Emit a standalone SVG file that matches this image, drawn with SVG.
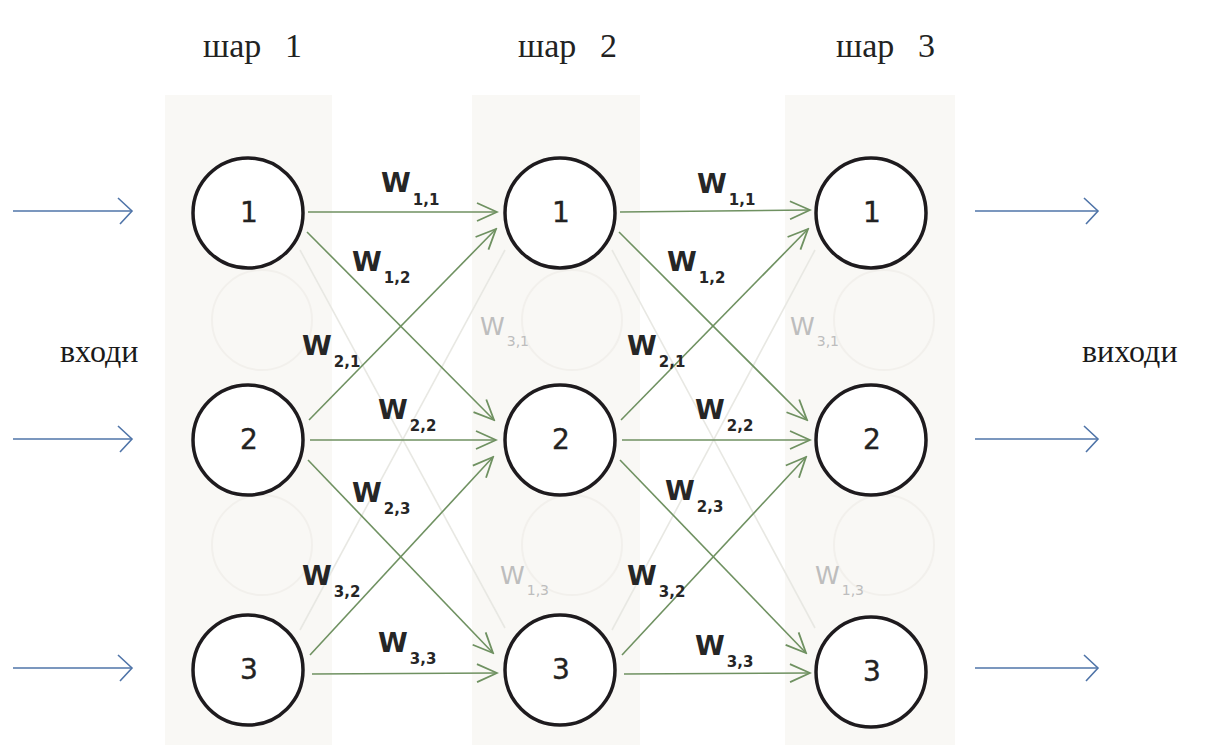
<svg xmlns="http://www.w3.org/2000/svg" width="1205" height="745" viewBox="0 0 1205 745">
  <defs>
    <style>
      .col { fill: #f9f8f5; }
      .ghost { fill: none; stroke: #f2f0ec; stroke-width: 2; }
      .node { fill: #ffffff; stroke: #1e1b1e; stroke-width: 3.5; }
      .num { font-family: "DejaVu Sans", sans-serif; font-size: 28px; fill: #222; stroke: #222; stroke-width: 0.4; text-anchor: middle; }
      .head { font-family: "Liberation Serif", serif; font-size: 34px; fill: #222; }
      .side { font-family: "Liberation Serif", serif; font-size: 32px; fill: #1a1a1a; }
      .w { font-family: "DejaVu Sans", sans-serif; font-size: 27px; font-weight: bold; fill: #262626; }
      .w tspan { font-size: 15px; }
      .wf { font-family: "DejaVu Sans", sans-serif; font-size: 25px; fill: #bdbdbd; }
      .wf tspan { font-size: 14px; }
      .edge { fill: none; stroke: #6f9161; stroke-width: 1.6; marker-end: url(#g); }
      .faint { fill: none; stroke: #e8e8e3; stroke-width: 1.6; }
      .io { fill: none; stroke: #4f74a8; stroke-width: 1.6; marker-end: url(#b); }
    </style>
    <marker id="g" viewBox="0 0 24 20" refX="22" refY="10" markerWidth="24" markerHeight="20" markerUnits="userSpaceOnUse" orient="auto">
      <path d="M2,1 L22,10 L2,19" fill="none" stroke="#6f9161" stroke-width="1.8"/>
    </marker>
    <marker id="b" viewBox="0 0 20 28" refX="18" refY="14" markerWidth="20" markerHeight="28" markerUnits="userSpaceOnUse" orient="auto">
      <path d="M4,1 L18,14 L6,27" fill="none" stroke="#4f74a8" stroke-width="1.6"/>
    </marker>
  </defs>

  <rect width="1205" height="745" fill="#ffffff"/>

  <!-- layer backdrops -->
  <g id="backdrop">
    <rect class="col" x="165" y="95" width="167" height="650"/>
    <rect class="col" x="472" y="95" width="168" height="650"/>
    <rect class="col" x="785" y="95" width="170" height="650"/>
    <circle class="ghost" cx="262" cy="320" r="50"/>
    <circle class="ghost" cx="262" cy="545" r="50"/>
    <circle class="ghost" cx="572" cy="320" r="50"/>
    <circle class="ghost" cx="572" cy="545" r="50"/>
    <circle class="ghost" cx="884" cy="320" r="50"/>
    <circle class="ghost" cx="884" cy="545" r="50"/>
  </g>

  <!-- headings and side labels -->
  <text class="head" x="203" y="57">шар<tspan x="285">1</tspan></text>
  <text class="head" x="518" y="57">шар<tspan x="600">2</tspan></text>
  <text class="head" x="836" y="57">шар<tspan x="918">3</tspan></text>
  <text class="side" x="60" y="362">входи</text>
  <text class="side" x="1082" y="362">виходи</text>

  <!-- connectors -->
  <g id="connectors">
    <!-- inputs -->
    <path class="io" d="M13,211 L132,211"/>
    <path class="io" d="M13,439 L132,439"/>
    <path class="io" d="M13,668 L132,668"/>
    <!-- outputs -->
    <path class="io" d="M975,211 L1098,211"/>
    <path class="io" d="M975,439 L1098,439"/>
    <path class="io" d="M975,668 L1098,668"/>

    <!-- faint background links -->
    <path class="faint" d="M300,630 L505,250"/>
    <path class="faint" d="M300,250 L505,628"/>
    <path class="faint" d="M612,630 L815,250"/>
    <path class="faint" d="M612,250 L815,628"/>

    <!-- layer 1 to layer 2 -->
    <path class="edge" d="M308,212 L497,212"/>
    <path class="edge" d="M307,232 L494,420"/>
    <path class="edge" d="M309,420 L496,229"/>
    <path class="edge" d="M310,440 L496,440"/>
    <path class="edge" d="M308,460 L493,653"/>
    <path class="edge" d="M310,655 L493,457"/>
    <path class="edge" d="M312,674 L497,673"/>

    <!-- layer 2 to layer 3 -->
    <path class="edge" d="M620,212 L810,210"/>
    <path class="edge" d="M619,232 L807,420"/>
    <path class="edge" d="M621,420 L808,229"/>
    <path class="edge" d="M622,440 L810,440"/>
    <path class="edge" d="M620,460 L806,653"/>
    <path class="edge" d="M622,655 L806,457"/>
    <path class="edge" d="M624,674 L810,673"/>
  </g>

  <!-- weight labels, layer 1 to layer 2 -->
  <text class="w" x="381" y="192">W<tspan dx="2" dy="13">1,1</tspan></text>
  <text class="w" x="352" y="271">W<tspan dx="2" dy="12">1,2</tspan></text>
  <text class="w" x="302" y="355">W<tspan dx="2" dy="12">2,1</tspan></text>
  <text class="wf" x="480" y="335">W<tspan dx="2" dy="11">3,1</tspan></text>
  <text class="w" x="378" y="419">W<tspan dx="2" dy="12">2,2</tspan></text>
  <text class="w" x="352" y="502">W<tspan dx="2" dy="12">2,3</tspan></text>
  <text class="w" x="302" y="585">W<tspan dx="2" dy="12">3,2</tspan></text>
  <text class="wf" x="500" y="584">W<tspan dx="2" dy="11">1,3</tspan></text>
  <text class="w" x="378" y="652">W<tspan dx="2" dy="12">3,3</tspan></text>

  <!-- weight labels, layer 2 to layer 3 -->
  <text class="w" x="697" y="193">W<tspan dx="2" dy="12">1,1</tspan></text>
  <text class="w" x="667" y="271">W<tspan dx="2" dy="12">1,2</tspan></text>
  <text class="w" x="627" y="355">W<tspan dx="2" dy="12">2,1</tspan></text>
  <text class="wf" x="790" y="335">W<tspan dx="2" dy="11">3,1</tspan></text>
  <text class="w" x="695" y="419">W<tspan dx="2" dy="12">2,2</tspan></text>
  <text class="w" x="665" y="500">W<tspan dx="2" dy="12">2,3</tspan></text>
  <text class="w" x="627" y="585">W<tspan dx="2" dy="12">3,2</tspan></text>
  <text class="wf" x="815" y="584">W<tspan dx="2" dy="11">1,3</tspan></text>
  <text class="w" x="695" y="655">W<tspan dx="2" dy="12">3,3</tspan></text>

  <!-- nodes -->
  <g id="l1n1"><circle class="node" cx="248" cy="213" r="55"/><text class="num" x="249" y="222">1</text></g>
  <g id="l1n2"><circle class="node" cx="248" cy="440" r="55"/><text class="num" x="249" y="449">2</text></g>
  <g id="l1n3"><circle class="node" cx="248" cy="670" r="55"/><text class="num" x="249" y="679">3</text></g>
  <g id="l2n1"><circle class="node" cx="560" cy="213" r="55"/><text class="num" x="561" y="222">1</text></g>
  <g id="l2n2"><circle class="node" cx="560" cy="440" r="55"/><text class="num" x="561" y="449">2</text></g>
  <g id="l2n3"><circle class="node" cx="560" cy="670" r="55"/><text class="num" x="561" y="679">3</text></g>
  <g id="l3n1"><circle class="node" cx="871" cy="213" r="55"/><text class="num" x="872" y="222">1</text></g>
  <g id="l3n2"><circle class="node" cx="871" cy="440" r="55"/><text class="num" x="872" y="449">2</text></g>
  <g id="l3n3"><circle class="node" cx="871" cy="672" r="55"/><text class="num" x="872" y="681">3</text></g>
</svg>
